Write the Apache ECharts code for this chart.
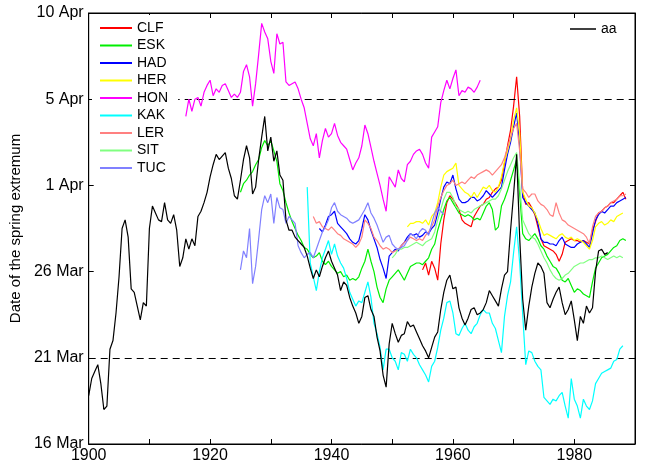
<!DOCTYPE html>
<html>
<head>
<meta charset="utf-8">
<script src="https://cdn.jsdelivr.net/npm/echarts@6/dist/echarts.min.js"></script>
<style>
html,body{margin:0;padding:0;background:#fff;}
#chart{width:651px;height:466px;}
</style>
</head>
<body>
<div id="chart"></div>
<script>
// Half-year sampling: each series = start year + values every 0.5 year (day-of-year units, 75 = 16 Mar)
const STEP = 0.5;
const yTickValues = [75, 80, 85, 90, 95, 100];
const yTickLabels = ['16 Mar', '21 Mar', '26 Mar', '1 Apr', '5 Apr', '10 Apr'];
const xLabelYears = [1900, 1920, 1940, 1960, 1980];
const refLines = [80, 95];

const stationNames = ['CLF', 'ESK', 'HAD', 'HER', 'HON', 'KAK', 'LER', 'SIT', 'TUC'];
const stationColors = ['#ff0000', '#00ee00', '#0000ff', '#ffff00', '#ff00ff', '#00ffff', '#ff8080', '#80ff80', '#8080ff'];

const aaStart = 1900;
const aaVals = [
  77.8, 78.8, 79.2, 79.6, 78.5, 77.0, 77.2, 80.5, 81.0, 82.6,
  84.7, 87.5, 88.0, 87.0, 84.0, 83.8, 83.0, 82.2, 83.2, 83.0,
  87.5, 88.8, 88.4, 88.0, 87.9, 89.0, 88.0, 87.8, 88.3, 87.4,
  85.3, 85.8, 86.9, 86.3, 86.9, 86.5, 88.2, 88.5, 89.0, 89.6,
  90.5, 91.2, 91.8, 91.5, 91.7, 91.9, 91.0, 90.4, 89.4, 89.2,
  90.3, 91.5, 92.3, 91.6, 89.5, 89.9, 91.5, 92.8, 94.0, 92.0,
  92.8, 91.4, 92.0, 90.6, 90.3, 88.0, 87.4, 87.4, 87.0, 86.8,
  86.6, 86.4, 85.9, 85.2, 84.6, 85.1, 84.7, 85.3, 85.8, 86.2,
  85.6, 85.2, 84.8, 83.9, 84.4, 84.2, 83.5, 83.0, 82.6, 82.0,
  82.4, 83.5, 83.6, 82.8, 82.4, 81.2, 80.4, 79.0, 78.3, 80.8,
  82.0, 81.4, 80.9, 81.3, 81.4, 82.1, 81.8, 81.9, 81.5, 81.1,
  80.7, 80.4, 80.0, 80.6, 81.2, 81.5, 82.8, 83.8, 84.5, 84.8,
  84.0, 84.1, 82.9, 82.3, 81.9, 82.3, 82.8, 82.9, 82.5, 82.6,
  82.8, 83.2, 83.9, 83.6, 83.3, 83.0, 84.0, 84.8, 85.0, 87.4,
  89.5, 91.8, 87.0, 83.4, 81.6, 83.0, 84.1, 84.9, 85.5, 85.3,
  84.9, 83.2, 82.9, 83.4, 83.8, 84.1, 83.2, 82.5, 82.8, 83.3,
  82.2, 81.0, 82.4, 82.0, 83.0, 82.6, 82.9, 85.0, 86.2, 86.3,
  86.0, 86.1
];

const clfStart = 1955;
const clfVals = [
  85.1, 85.5, 84.8, 85.6, 85.2, 84.5, 86.6, 88.0, 89.0, 89.4,
  89.2, 88.9, 88.6, 88.0, 87.8, 87.7, 87.6, 88.2, 88.5, 88.8,
  88.9, 89.2, 89.3, 89.6, 89.8, 89.9, 90.3, 91.3, 92.3, 93.2,
  94.6, 96.3, 94.0, 89.6, 88.9, 89.0, 88.7, 88.3, 87.6, 86.9,
  86.5, 86.4, 86.3, 86.2, 86.0, 85.6, 86.0, 86.7, 86.8, 86.9,
  86.8, 86.8, 86.7, 86.8, 86.7, 86.6, 87.4, 87.9, 88.4, 88.5,
  88.7, 88.8, 89.0, 89.0, 89.2, 89.4, 89.6, 89.2
];

const eskStart = 1925;
const eskVals = [
  89.6, 90.1, 90.3, 90.6, 90.8, 91.2, 91.5, 92.2, 92.6, 92.3,
  92.6, 92.0, 91.4, 90.1, 89.7, 89.0, 88.4, 87.9, 87.5, 87.1,
  86.8, 86.4, 86.3, 86.0, 85.8, 85.9, 86.1, 85.6, 85.4, 85.6,
  85.3, 85.1, 84.9, 85.0, 84.7, 84.8, 84.5, 84.6, 84.5, 84.7,
  85.2, 85.6, 86.3, 85.6, 85.0, 84.1, 83.5, 83.2, 84.0, 84.5,
  84.7, 84.9, 85.1, 84.8, 84.5, 84.9, 85.3, 85.4, 85.5, 85.5,
  85.4, 85.6, 85.8, 86.3, 86.6, 87.4, 88.0, 88.6, 89.1, 89.3,
  89.0, 88.7, 88.4, 88.3, 88.2, 88.3, 88.2, 88.0, 88.1, 88.0,
  88.4, 88.8, 89.0, 88.6, 87.4, 87.6, 88.8, 89.2, 89.7, 90.3,
  90.9, 91.5, 89.5, 87.2, 86.9, 86.8, 87.0, 87.2, 86.9, 86.5,
  86.3, 85.9, 85.6, 85.3, 85.2, 84.9, 84.5, 84.4, 84.6, 84.2,
  83.8, 84.0, 83.9, 83.7, 83.6, 83.5, 84.4, 85.2, 85.5, 85.8,
  85.9, 86.0, 86.2, 86.4, 86.5, 86.8, 86.9, 86.8
];

const hadStart = 1938;
const hadVals = [
  87.5, 87.3, 87.7, 88.2, 88.3, 88.5, 87.8, 87.6, 87.4, 87.2,
  86.9, 86.7, 86.6, 86.8, 87.5, 88.3, 88.0, 87.4, 86.9, 86.4,
  85.7, 85.2, 84.6, 85.9, 86.1, 86.3, 86.2, 86.5, 86.7, 87.0,
  87.2, 87.1, 87.2, 87.0, 87.1, 87.3, 87.2, 87.5, 87.7, 88.4,
  89.2, 89.9, 90.2, 90.1, 90.6, 89.8, 89.2, 89.0, 89.0, 89.1,
  89.3, 89.3, 89.1, 89.2, 89.4, 89.7, 89.5, 89.3, 89.5, 89.7,
  89.9, 90.9, 91.8, 92.5, 93.4, 94.2, 92.3, 89.3, 89.0, 88.8,
  88.6, 88.4, 87.8, 86.9, 86.7, 86.7, 86.6, 86.6, 86.5, 86.8,
  87.0, 86.6, 86.5, 86.4, 86.4, 86.6, 86.7, 86.8, 86.6, 86.4,
  87.2, 88.0, 88.3, 88.5, 88.4, 88.6, 88.8, 88.8, 89.0, 89.1,
  89.2, 89.3
];

const herStart = 1952.5;
const herVals = [
  87.6, 87.8, 87.8, 87.9, 87.9, 87.8, 88.0, 87.7, 88.2, 88.4,
  89.0, 89.9, 90.6, 90.8, 90.9, 91.0, 91.3, 90.0, 89.8, 89.6,
  89.5, 89.3, 89.6, 89.3, 89.6, 89.9, 89.8, 90.0, 89.7, 89.6,
  89.9, 90.5, 91.4, 92.0, 92.7, 93.8, 94.5, 93.0, 89.6, 89.2,
  88.8, 88.7, 88.4, 88.0, 87.5, 87.1, 87.2, 87.1, 87.0, 86.9,
  87.1, 87.2, 87.0, 86.9, 87.0, 86.8, 86.9, 86.8, 86.7, 86.5,
  86.3, 86.8, 87.6, 87.8, 87.9, 87.7, 87.8, 88.0, 87.9, 88.2,
  88.3, 88.4
];

const honStart = 1916;
const honVals = [
  94.0, 95.0, 94.3, 95.0, 95.1, 94.6, 95.4, 95.8, 96.1, 95.2,
  95.6, 95.4, 95.8, 95.9, 95.5, 95.1, 95.3, 95.1, 95.4, 96.6,
  97.0, 96.3, 94.6, 95.9, 97.6, 99.4, 98.9, 98.5, 97.2, 96.5,
  98.8, 98.2, 98.3, 96.0, 95.8, 95.9, 96.0, 95.6, 95.0, 94.5,
  93.6, 92.7, 92.3, 93.0, 91.6, 92.6, 93.3, 92.8, 93.0, 93.6,
  92.9, 92.5, 92.3, 92.1, 91.5, 90.9, 91.3, 91.6, 92.3, 93.5,
  93.0, 92.2, 91.4, 90.7, 90.0, 89.2, 88.5, 90.5, 90.2, 89.9,
  90.9, 90.4, 90.2, 91.2, 91.4, 91.8, 92.0, 92.1, 91.8, 91.3,
  91.0, 92.8, 93.1, 93.4, 94.8, 95.5, 96.1, 95.6, 96.2, 96.7,
  95.2, 95.5, 95.4, 95.7, 95.6, 95.4, 95.7, 96.1
];

const kakStart = 1936;
const kakVals = [
  89.9, 85.5, 84.7, 83.9, 85.0, 85.8, 86.3, 86.8, 86.0, 86.6,
  85.9, 85.5, 85.2, 84.6, 83.8, 83.4, 83.0, 83.3, 83.2, 83.8,
  84.4, 83.5, 82.0, 81.4, 80.6, 79.3, 80.5, 80.5, 80.0, 79.8,
  79.3, 80.3, 80.2, 79.8, 80.5, 80.2, 80.0, 79.6, 79.3, 79.0,
  78.6, 79.5, 79.8, 80.6, 81.6, 82.3, 83.2, 83.3, 82.6, 81.4,
  81.3, 81.7, 82.0, 81.6, 81.4, 81.8, 82.0, 82.5, 82.8, 82.6,
  82.6, 82.0, 81.7, 81.0, 80.3, 82.4, 83.6, 84.4, 86.1, 87.6,
  85.5, 82.5, 79.6, 80.4, 80.3, 79.8, 79.5, 79.3, 77.7, 77.5,
  77.3, 77.6, 77.5, 77.8, 78.0, 77.2, 76.5, 78.8, 77.6, 77.2,
  76.5, 77.6, 77.2, 77.0, 77.5, 78.5, 78.8, 79.1, 79.2, 79.3,
  79.4, 79.8, 79.9, 80.5, 80.7
];

const lerStart = 1937;
const lerVals = [
  88.2, 87.8, 87.9, 87.6, 87.5, 87.4, 87.6, 87.4, 87.2, 87.1,
  86.9, 86.8, 86.7, 86.6, 86.4, 86.6, 87.0, 88.0, 87.8, 87.5,
  87.0, 86.8, 86.5, 86.3, 86.4, 86.3, 86.1, 86.2, 86.3, 86.5,
  86.7, 86.8, 87.0, 86.9, 86.8, 86.9, 86.8, 87.1, 87.3, 87.6,
  88.0, 88.8, 89.3, 89.7, 90.0, 90.1, 90.3, 90.0, 90.1, 90.2,
  90.1, 90.3, 90.5, 90.4, 90.6, 90.7, 90.8, 90.9, 90.8, 90.6,
  90.8, 91.0, 91.2, 91.6, 92.2, 92.8, 93.3, 93.6, 92.0, 89.8,
  89.6, 89.3, 89.5, 89.5, 89.1, 88.9, 88.8, 88.6, 88.3, 88.2,
  89.0, 88.4, 88.0, 87.9, 87.7, 87.6, 87.5, 87.4, 87.3, 87.2,
  87.0, 86.6, 87.6, 88.2, 88.4, 88.5, 88.7, 88.8, 89.0, 89.1,
  89.2, 89.4, 89.4, 89.5
];

const sitStart = 1950;
const sitVals = [
  85.8, 86.0, 86.3, 86.3, 86.4, 86.4, 86.5, 86.6, 86.7, 86.6,
  86.5, 86.7, 86.8, 86.9, 87.3, 88.0, 88.6, 89.2, 89.6, 89.6,
  89.3, 88.8, 88.6, 88.5, 88.4, 88.5, 88.4, 88.6, 88.7, 88.8,
  88.9, 89.0, 89.1, 89.2, 89.2, 89.4, 89.8, 90.3, 90.8, 91.2,
  91.6, 91.9, 90.0, 88.0, 87.6, 87.2, 87.0, 86.9, 86.6, 86.2,
  85.8, 85.5, 85.1, 84.8, 84.6, 84.5, 84.6, 84.8, 84.9, 85.1,
  85.3, 85.4, 85.5, 85.5, 85.6, 85.7, 85.7, 85.8, 85.8, 85.9,
  85.8, 85.7, 85.8, 85.9, 85.8, 85.9, 85.8
];

const tucStart = 1925;
const tucVals = [
  85.1, 86.2, 85.8, 87.5, 84.3, 85.3, 86.9, 88.6, 89.4, 89.0,
  89.5, 87.8, 89.3, 88.7, 88.6, 87.8, 88.2, 88.0, 87.8, 86.5,
  86.1, 85.8, 86.0, 86.1, 85.8, 86.3, 86.8, 87.3, 87.6, 88.0,
  88.7, 89.0, 88.5, 88.3, 88.2, 88.1, 87.9, 87.8, 87.9, 88.0,
  88.3, 88.6, 89.0, 88.4, 88.1, 87.7, 87.2, 86.7, 87.0, 87.1,
  86.6, 86.4, 86.3, 86.4, 86.5, 86.8, 87.2, 87.1, 86.9, 87.3,
  87.5, 87.4, 87.1, 87.8, 88.4, 88.7, 88.5, 88.3
];

const stationStarts = [clfStart, eskStart, hadStart, herStart, honStart, kakStart, lerStart, sitStart, tucStart];
const stationVals = [clfVals, eskVals, hadVals, herVals, honVals, kakVals, lerVals, sitVals, tucVals];

function toPairs(start, vals) {
  return vals.map((v, i) => [start + i * STEP, v]);
}

const FONT = 'Liberation Sans, Arial, sans-serif';

const series = stationNames.map((name, k) => ({
  name: name,
  type: 'line',
  data: toPairs(stationStarts[k], stationVals[k]),
  showSymbol: false,
  symbol: 'none',
  lineStyle: { color: stationColors[k], width: 1.2 },
  itemStyle: { color: stationColors[k] },
  z: 2 + k
}));

series.push({
  name: 'aa',
  type: 'line',
  data: toPairs(aaStart, aaVals),
  showSymbol: false,
  symbol: 'none',
  lineStyle: { color: '#000', width: 1.2 },
  itemStyle: { color: '#000' },
  z: 20,
  markLine: {
    silent: true,
    symbol: ['none', 'none'],
    label: { show: false },
    lineStyle: { color: '#000', width: 1, type: [7, 5] },
    data: refLines.map(v => ({ yAxis: v }))
  }
});

const chart = echarts.init(document.getElementById('chart'));
chart.setOption({
  animation: false,
  backgroundColor: '#fff',
  grid: { left: 86, right: 16, top: 13, bottom: 22, show: true, borderColor: '#000', borderWidth: 1, backgroundColor: 'transparent' },
  legend: [
    {
      data: stationNames,
      orient: 'vertical',
      left: 92,
      top: 15,
      padding: [5, 10, 5, 8],
      backgroundColor: '#fff',
      z: 40,
      icon: 'rect',
      itemWidth: 32,
      itemHeight: 2,
      itemGap: 1.5,
      textStyle: { fontFamily: FONT, fontSize: 14, color: '#000', lineHeight: 16 }
    },
    {
      data: ['aa'],
      orient: 'vertical',
      left: 570,
      top: 21,
      padding: 0,
      z: 40,
      icon: 'rect',
      itemWidth: 26,
      itemHeight: 1.5,
      textStyle: { fontFamily: FONT, fontSize: 14, color: '#000', lineHeight: 16 }
    }
  ],
  xAxis: [
    {
      type: 'value', min: 1900, max: 1990, interval: 10,
      axisLine: { show: true, lineStyle: { color: '#000' } },
      axisTick: { show: true, inside: true, length: 5, lineStyle: { color: '#000' } },
      axisLabel: {
        fontFamily: FONT, fontSize: 16, color: '#000', margin: 4,
        formatter: v => (xLabelYears.indexOf(v) >= 0 ? String(v) : '')
      },
      splitLine: { show: false }
    },
    {
      type: 'value', position: 'top', min: 1900, max: 1990, interval: 10,
      axisLine: { show: true, lineStyle: { color: '#000' } },
      axisTick: { show: true, inside: true, length: 5, lineStyle: { color: '#000' } },
      axisLabel: { show: false },
      splitLine: { show: false }
    }
  ],
  yAxis: [
    {
      type: 'value', min: 75, max: 100, interval: 5,
      name: 'Date of the spring extremum',
      nameLocation: 'middle', nameRotate: 90, nameGap: 58,
      nameTextStyle: { fontFamily: FONT, fontSize: 15, color: '#000' },
      axisLine: { show: true, lineStyle: { color: '#000' } },
      axisTick: { show: true, inside: true, length: 5, lineStyle: { color: '#000' } },
      axisLabel: {
        fontFamily: FONT, fontSize: 16, color: '#000', margin: 5,
        formatter: v => { const i = yTickValues.indexOf(v); return i >= 0 ? yTickLabels[i] : ''; }
      },
      splitLine: { show: false }
    },
    {
      type: 'value', position: 'right', min: 75, max: 100, interval: 5,
      axisLine: { show: true, lineStyle: { color: '#000' } },
      axisTick: { show: true, inside: true, length: 5, lineStyle: { color: '#000' } },
      axisLabel: { show: false },
      splitLine: { show: false }
    }
  ],
  series: series
});
</script>
</body>
</html>
